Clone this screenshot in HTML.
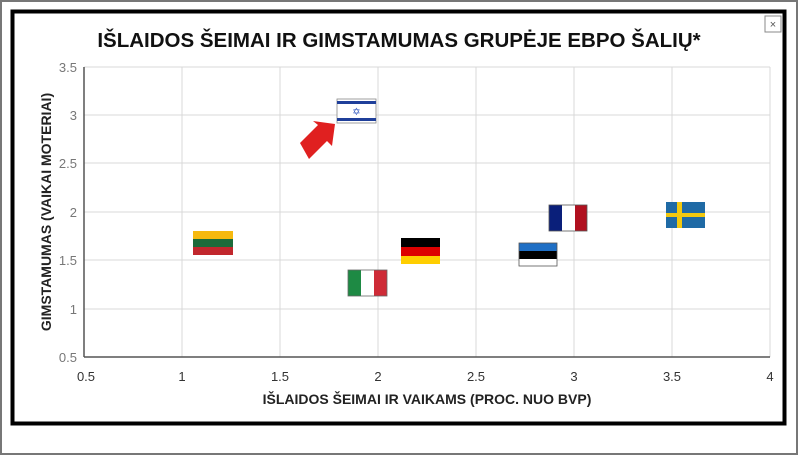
<!DOCTYPE html>
<html><head><meta charset="utf-8"><style>
body{margin:0;width:800px;height:456px;overflow:hidden;background:#fff;font-family:"Liberation Sans",sans-serif}
</style></head><body>
<svg width="800" height="456" xmlns="http://www.w3.org/2000/svg" font-family="Liberation Sans, sans-serif">
<rect x="0" y="0" width="800" height="456" fill="#fff"/>
<rect x="1" y="1" width="796" height="453" fill="none" stroke="#777" stroke-width="2"/>
<rect x="12.5" y="11.5" width="772" height="412" fill="none" stroke="#000" stroke-width="4"/>
<rect x="765" y="16" width="16" height="16" fill="#fff" stroke="#888" stroke-width="1"/>
<text x="773" y="28" font-size="11" text-anchor="middle" fill="#555">×</text>
<text x="399" y="47" font-size="20.5" font-weight="bold" text-anchor="middle" fill="#111">IŠLAIDOS ŠEIMAI IR GIMSTAMUMAS GRUPĖJE EBPO ŠALIŲ*</text>
<g stroke="#d9d9d9" stroke-width="1">
<line x1="182" y1="67" x2="182" y2="357"/><line x1="280" y1="67" x2="280" y2="357"/>
<line x1="378" y1="67" x2="378" y2="357"/><line x1="476" y1="67" x2="476" y2="357"/>
<line x1="574" y1="67" x2="574" y2="357"/><line x1="672" y1="67" x2="672" y2="357"/>
<line x1="770" y1="67" x2="770" y2="357"/>
<line x1="84" y1="67" x2="770" y2="67"/><line x1="84" y1="115" x2="770" y2="115"/>
<line x1="84" y1="163" x2="770" y2="163"/><line x1="84" y1="212" x2="770" y2="212"/>
<line x1="84" y1="260" x2="770" y2="260"/><line x1="84" y1="309" x2="770" y2="309"/>
</g>
<line x1="84" y1="67" x2="84" y2="357" stroke="#555" stroke-width="1.5"/>
<line x1="84" y1="357" x2="770" y2="357" stroke="#555" stroke-width="1.5"/>
<g font-size="13" fill="#777" text-anchor="end">
<text x="77" y="72">3.5</text><text x="77" y="120">3</text><text x="77" y="168">2.5</text>
<text x="77" y="217">2</text><text x="77" y="265">1.5</text><text x="77" y="314">1</text><text x="77" y="362">0.5</text>
</g>
<g font-size="13" fill="#333" text-anchor="middle">
<text x="86" y="381">0.5</text><text x="182" y="381">1</text><text x="280" y="381">1.5</text>
<text x="378" y="381">2</text><text x="476" y="381">2.5</text><text x="574" y="381">3</text>
<text x="672" y="381">3.5</text><text x="770" y="381">4</text>
</g>
<text x="427" y="404" font-size="14" font-weight="bold" text-anchor="middle" fill="#222">IŠLAIDOS ŠEIMAI IR VAIKAMS (PROC. NUO BVP)</text>
<text transform="translate(51,212) rotate(-90)" font-size="14" font-weight="bold" text-anchor="middle" fill="#222">GIMSTAMUMAS (VAIKAI MOTERIAI)</text>
<rect x="337" y="99" width="39" height="24" fill="#fff" stroke="#888" stroke-width="0.8"/>
<rect x="337" y="101" width="39" height="3" fill="#1f3f9a"/>
<rect x="337" y="118" width="39" height="3" fill="#1f3f9a"/>
<text x="356.5" y="115" font-size="10" text-anchor="middle" fill="#2a52be">✡</text>
<polygon points="300,143 318,125 313,121 335,124 332,146 327,141 309,159" fill="#e02020"/>
<rect x="193" y="231" width="40" height="8" fill="#f6b90f"/>
<rect x="193" y="239" width="40" height="8" fill="#1c6a3a"/>
<rect x="193" y="247" width="40" height="8" fill="#c1272d"/>
<rect x="348" y="270" width="13" height="26" fill="#1e8a44"/>
<rect x="361" y="270" width="13" height="26" fill="#fff"/>
<rect x="374" y="270" width="13" height="26" fill="#ce2b37"/>
<rect x="348" y="270" width="39" height="26" fill="none" stroke="#666" stroke-width="0.8"/>
<rect x="401" y="238" width="39" height="9" fill="#000"/>
<rect x="401" y="247" width="39" height="9" fill="#dd0000"/>
<rect x="401" y="256" width="39" height="8" fill="#ffce00"/>
<rect x="519" y="243" width="38" height="8" fill="#1f6fc5"/>
<rect x="519" y="251" width="38" height="8" fill="#000"/>
<rect x="519" y="259" width="38" height="7" fill="#fff"/>
<rect x="519" y="243" width="38" height="23" fill="none" stroke="#555" stroke-width="0.8"/>
<rect x="549" y="205" width="13" height="26" fill="#0a1f7a"/>
<rect x="562" y="205" width="13" height="26" fill="#fff"/>
<rect x="575" y="205" width="12" height="26" fill="#b0101f"/>
<rect x="549" y="205" width="38" height="26" fill="none" stroke="#555" stroke-width="0.8"/>
<rect x="666" y="202" width="39" height="26" fill="#1f6aa5"/>
<rect x="677" y="202" width="5" height="26" fill="#f2c80f"/>
<rect x="666" y="213" width="39" height="4" fill="#f2c80f"/>
</svg>
</body></html>
